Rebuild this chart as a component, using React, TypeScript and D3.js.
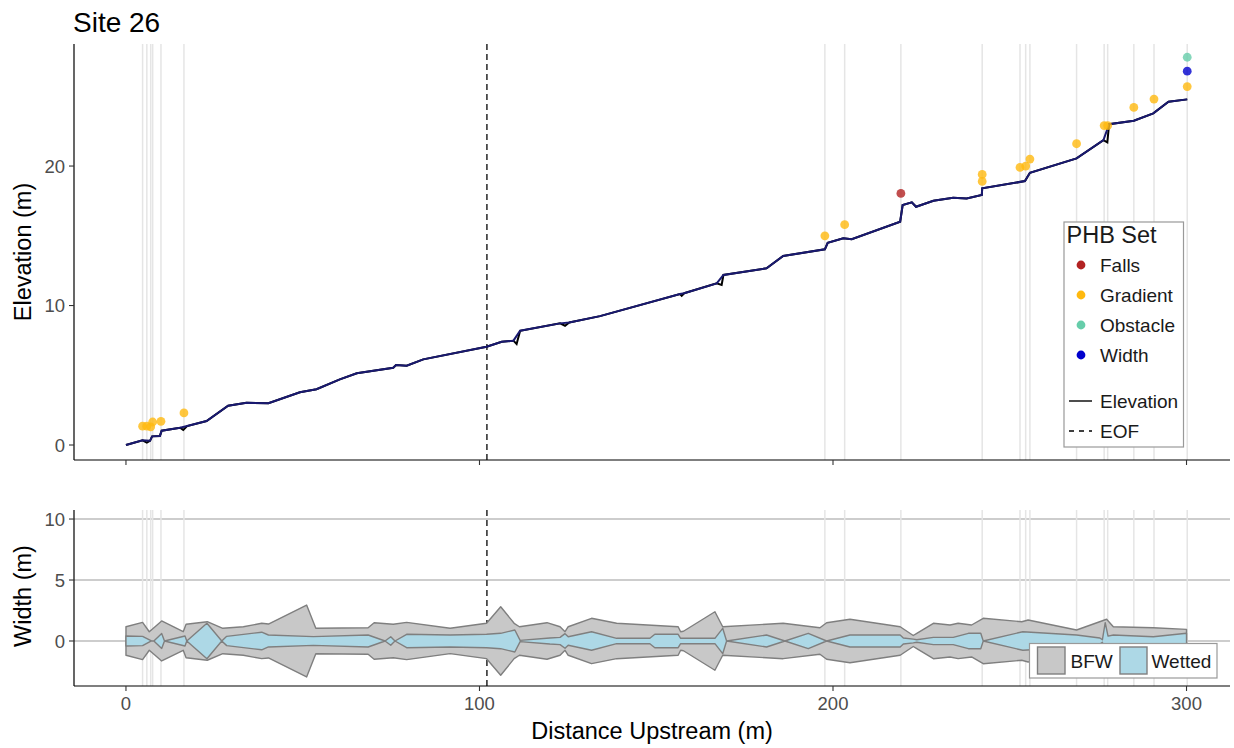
import React from "react";
import * as d3 from "d3";

// ---------- DATA ----------
const title = "Site 26";

// Elevation profile (distance m, elevation m)
const profileDist = [0, 4.7, 5.9, 6.8, 7.4, 9.6, 10.1, 15.3, 16.2, 17.3, 22.8, 28.9, 34.1, 40.3, 49.2, 53.9, 60.5, 65.3, 75.6, 76.4, 79.4, 84.1, 102.0, 106.3, 109.6, 110.5, 111.5, 122.8, 124.2, 125.4, 134.1, 156.7, 157.2, 157.9, 167.1, 168.5, 169.0, 181.2, 185.9, 197.7, 198.5, 202.9, 205.3, 219.0, 219.7, 222.3, 223.5, 228.4, 234.0, 237.8, 242.1, 242.2, 254.3, 255.7, 268.9, 276.5, 277.6, 278.1, 285.1, 290.6, 294.9, 300.2];
const profileElev = [0, 0.34, 0.17, 0.3, 0.62, 0.65, 1.03, 1.24, 1.08, 1.36, 1.72, 2.82, 3.03, 2.99, 3.78, 4.0, 4.71, 5.14, 5.54, 5.73, 5.69, 6.14, 7.05, 7.4, 7.48, 7.24, 8.19, 8.72, 8.55, 8.78, 9.24, 10.82, 10.7, 10.88, 11.59, 11.47, 12.19, 12.67, 13.55, 14.03, 14.5, 14.82, 14.75, 16.01, 17.2, 17.4, 17.08, 17.51, 17.73, 17.68, 17.92, 18.4, 18.92, 19.52, 20.55, 21.86, 21.7, 23.0, 23.25, 23.78, 24.61, 24.78];
// local dips that appear only on the raw (black) profile
const dipDist = [5.9, 16.2, 110.5, 124.2, 157.2, 168.5, 277.6];

// PHB points
const phbDist = [4.7, 5.9, 7.0, 7.55, 9.9, 16.4, 197.7, 203.3, 219.2, 242.2, 242.2, 252.9, 254.5, 255.7, 268.9, 276.7, 277.7, 285.1, 290.8, 300.2, 300.2, 300.2];
const phbElev = [1.35, 1.35, 1.3, 1.65, 1.7, 2.3, 15.0, 15.8, 18.04, 19.4, 18.9, 19.9, 20.0, 20.5, 21.6, 22.9, 22.9, 24.2, 24.8, 25.7, 26.8, 27.8];
const phbType = ["Gradient", "Gradient", "Gradient", "Gradient", "Gradient", "Gradient", "Gradient", "Gradient", "Falls", "Gradient", "Gradient", "Gradient", "Gradient", "Gradient", "Gradient", "Gradient", "Gradient", "Gradient", "Gradient", "Gradient", "Width", "Obstacle"];

const phbSets = ["Falls", "Gradient", "Obstacle", "Width"];
const phbColors = ["#b22222", "#ffb90f", "#66cdaa", "#0000cd"];

const eofDist = 102.1;

// Bankfull width
const bfwDist = [0, 4.7, 6.6, 10.1, 16.2, 17.0, 23.0, 27.4, 33.2, 38.4, 40.3, 51.1, 53.7, 68.5, 70.2, 75.6, 79.4, 91.7, 102.0, 106.0, 109.8, 111.3, 119.1, 122.8, 124.2, 125.1, 131.7, 138.8, 156.2, 156.9, 157.7, 166.6, 168.8, 185.9, 196.3, 198.2, 204.8, 219.0, 222.7, 223.7, 228.4, 233.1, 235.4, 239.2, 242.5, 253.4, 255.2, 268.9, 277.4, 279.3, 290.6, 300.0];
const bfwWidth = [2.34, 3.06, 1.52, 3.28, 1.52, 2.74, 3.16, 2.08, 2.34, 2.9, 2.78, 5.9, 2.08, 2.18, 3.0, 2.74, 3.06, 2.08, 2.9, 5.62, 2.9, 2.34, 3.0, 2.34, 1.52, 2.34, 3.72, 2.9, 2.34, 1.52, 1.6, 4.8, 2.34, 2.9, 2.18, 3.0, 3.56, 2.34, 0.9, 1.26, 2.9, 2.62, 2.9, 2.62, 3.72, 3.16, 3.44, 1.8, 3.56, 2.34, 2.18, 1.9];

// Wetted width
const wetDist = [0, 4.7, 7.2, 7.9, 10.1, 10.9, 16.7, 17.2, 22.9, 27.1, 28.5, 38.4, 40.3, 53.0, 68.5, 73.3, 74.9, 76.1, 79.4, 91.7, 102.0, 106.0, 110.0, 111.5, 119.9, 122.8, 124.2, 125.1, 131.7, 138.8, 148.2, 149.6, 156.2, 156.9, 166.6, 168.8, 169.9, 181.2, 186.4, 193.0, 198.2, 204.8, 219.0, 219.9, 222.7, 223.7, 228.4, 234.0, 238.3, 241.8, 242.5, 253.7, 268.9, 275.5, 276.2, 277.0, 277.8, 279.3, 290.6, 300.0];
const wetWidth = [0.82, 0.76, 0, 0, 1.22, 0, 0.82, 0, 2.9, 0, 0.76, 1.44, 0.98, 0.72, 0.98, 0, 0.7, 0, 1.1, 0.98, 1.1, 1.26, 1.8, 0.1, 0.5, 0.6, 1.2, 0.7, 1.52, 0.44, 0.44, 1.1, 1.1, 0.44, 0.44, 2.08, 0, 0.98, 0, 1.26, 0, 0.98, 0.98, 0.5, 0.3, 0.2, 0.6, 0.6, 1.26, 1.26, 0, 1.52, 0.98, 0.5, 0.2, 3.0, 0.8, 0.98, 0.7, 1.26];

const xTicks = [0, 100, 200, 300];
const elevTicks = [0, 10, 20];
const widthTicks = [0, 5, 10];

// ---------- LAYOUT ----------
const W = 1234, H = 748;
const left = 74, right = 1230;
const topP = { top: 44, bottom: 460 };
const botP = { top: 510, bottom: 686 };
const FONT = "'Liberation Sans', Arial, sans-serif";

export default function App() {
  const x = d3.scaleLinear().domain([-14.7, 312.3]).range([left, right]);
  const yE = d3.scaleLinear().domain([-1.075, 28.75]).range([topP.bottom, topP.top]);
  const yW = d3.scaleLinear().domain([-3.69, 10.74]).range([botP.bottom, botP.top]);

  const profile = profileDist.map((d, i) => [d, profileElev[i]] as [number, number]);
  const smooth = profile.filter((p) => !dipDist.includes(p[0]));
  const line = d3.line<[number, number]>().x((d) => x(d[0])).y((d) => yE(d[1]));

  const bfw = bfwDist.map((d, i) => ({ d, w: bfwWidth[i] }));
  const wet = wetDist.map((d, i) => ({ d, w: wetWidth[i] }));
  const area = d3
    .area<{ d: number; w: number }>()
    .x((p) => x(p.d))
    .y0((p) => yW(-p.w / 2))
    .y1((p) => yW(p.w / 2));

  const vlines = Array.from(new Set(phbDist));
  const color = d3.scaleOrdinal<string, string>().domain(phbSets).range(phbColors);

  const tickColor = "#333333";
  const labColor = "#4d4d4d";

  return (
    <svg
      width={W}
      height={H}
      style={{ position: "absolute", left: 0, top: 0, background: "#fff" }}
      fontFamily={FONT}
    >
      <rect x={0} y={0} width={W} height={H} fill="#fff" />
      {/* Title */}
      <text x={73} y={32} fontSize={28} fill="#000">{title}</text>

      {/* ---- TOP PANEL ---- */}
      {vlines.map((d, i) => (
        <line key={"vt" + i} x1={x(d)} x2={x(d)} y1={topP.top} y2={topP.bottom} stroke="#e5e5e5" strokeWidth={1.5} />
      ))}
      <line x1={x(eofDist)} x2={x(eofDist)} y1={topP.top} y2={topP.bottom} stroke="#333" strokeWidth={1.6} strokeDasharray="6 4" />
      <path d={line(profile) || ""} fill="none" stroke="#000" strokeWidth={2} />
      <path d={line(smooth) || ""} fill="none" stroke="#191970" strokeWidth={2} />
      {phbDist.map((d, i) => (
        <circle key={"p" + i} cx={x(d)} cy={yE(phbElev[i])} r={4.4} fill={color(phbType[i])} fillOpacity={0.8} />
      ))}
      {/* axes */}
      <line x1={left} x2={left} y1={topP.top} y2={topP.bottom} stroke="#000" strokeWidth={1.2} />
      <line x1={left} x2={right} y1={topP.bottom} y2={topP.bottom} stroke="#000" strokeWidth={1.2} />
      {elevTicks.map((t) => (
        <g key={"et" + t}>
          <line x1={left - 5} x2={left} y1={yE(t)} y2={yE(t)} stroke={tickColor} strokeWidth={1.1} />
          <text x={left - 9} y={yE(t)} dy="0.36em" textAnchor="end" fontSize={18.5} fill={labColor}>{t}</text>
        </g>
      ))}
      {xTicks.map((t) => (
        <line key={"xt1" + t} x1={x(t)} x2={x(t)} y1={topP.bottom} y2={topP.bottom + 5} stroke={tickColor} strokeWidth={1.1} />
      ))}
      <text transform={`translate(31,${(topP.top + topP.bottom) / 2}) rotate(-90)`} textAnchor="middle" fontSize={23.5} fill="#000">Elevation (m)</text>

      {/* legend top */}
      <g>
        <rect x={1064} y={222} width={119.5} height={225} fill="#fff" stroke="#999" strokeWidth={1.2} />
        <text x={1066.5} y={243} fontSize={23.5} fill="#1a1a1a">PHB Set</text>
        {phbSets.map((s, i) => (
          <g key={"lg" + s}>
            <circle cx={1081} cy={265 + i * 30} r={4.4} fill={phbColors[i]} />
            <text x={1100} y={265 + i * 30} dy="0.36em" fontSize={19} fill="#1a1a1a">{s}</text>
          </g>
        ))}
        <line x1={1069} x2={1092} y1={401} y2={401} stroke="#000" strokeWidth={1.4} />
        <text x={1100} y={401} dy="0.36em" fontSize={19} fill="#1a1a1a">Elevation</text>
        <line x1={1069} x2={1092} y1={431} y2={431} stroke="#000" strokeWidth={1.4} strokeDasharray="5 5" />
        <text x={1100} y={431} dy="0.36em" fontSize={19} fill="#1a1a1a">EOF</text>
      </g>

      {/* ---- BOTTOM PANEL ---- */}
      {widthTicks.map((t) => (
        <line key={"hg" + t} x1={left} x2={right} y1={yW(t)} y2={yW(t)} stroke="#bdbdbd" strokeWidth={1.5} />
      ))}
      {vlines.map((d, i) => (
        <line key={"vb" + i} x1={x(d)} x2={x(d)} y1={botP.top} y2={botP.bottom} stroke="#e5e5e5" strokeWidth={1.5} />
      ))}
      <line x1={x(eofDist)} x2={x(eofDist)} y1={botP.top} y2={botP.bottom} stroke="#333" strokeWidth={1.6} strokeDasharray="6 4" />
      <path d={area(bfw) || ""} fill="#c8c8c8" stroke="#7f7f7f" strokeWidth={1.4} strokeLinejoin="round" />
      <path d={area(wet) || ""} fill="#add8e6" stroke="#7f7f7f" strokeWidth={1.4} strokeLinejoin="round" />
      <line x1={left} x2={left} y1={botP.top} y2={botP.bottom} stroke="#000" strokeWidth={1.2} />
      <line x1={left} x2={right} y1={botP.bottom} y2={botP.bottom} stroke="#000" strokeWidth={1.2} />
      {widthTicks.map((t) => (
        <g key={"wt" + t}>
          <line x1={left - 5} x2={left} y1={yW(t)} y2={yW(t)} stroke={tickColor} strokeWidth={1.1} />
          <text x={left - 9} y={yW(t)} dy="0.36em" textAnchor="end" fontSize={18.5} fill={labColor}>{t}</text>
        </g>
      ))}
      {xTicks.map((t) => (
        <g key={"xt2" + t}>
          <line x1={x(t)} x2={x(t)} y1={botP.bottom} y2={botP.bottom + 5} stroke={tickColor} strokeWidth={1.1} />
          <text x={x(t)} y={710} textAnchor="middle" fontSize={18.5} fill={labColor}>{t}</text>
        </g>
      ))}
      <text transform={`translate(31,596) rotate(-90)`} textAnchor="middle" fontSize={23.5} fill="#000">Width (m)</text>
      <text x={(left + right) / 2} y={739} textAnchor="middle" fontSize={23.5} fill="#000">Distance Upstream (m)</text>

      {/* legend bottom */}
      <g>
        <rect x={1029.5} y={643.5} width={187.5} height={34.5} fill="#fff" stroke="#999" strokeWidth={1.2} />
        <rect x={1037.5} y={647} width={27.5} height={27} fill="#c8c8c8" stroke="#7f7f7f" strokeWidth={1.4} />
        <text x={1070.5} y={661} dy="0.36em" fontSize={19} fill="#1a1a1a">BFW</text>
        <rect x={1120} y={647} width={27} height={27} fill="#add8e6" stroke="#7f7f7f" strokeWidth={1.4} />
        <text x={1151.5} y={661} dy="0.36em" fontSize={19} fill="#1a1a1a">Wetted</text>
      </g>
    </svg>
  );
}
